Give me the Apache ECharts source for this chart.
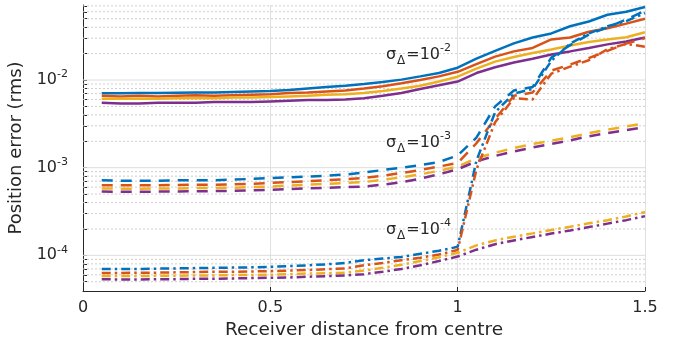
<!DOCTYPE html>
<html><head><meta charset="utf-8">
<script src="https://cdn.jsdelivr.net/npm/echarts@6/dist/echarts.min.js"></script>
<style>html,body{margin:0;padding:0;background:#fff}#c{width:685px;height:348px}</style>
</head><body><div id="c"></div>
<script>
// ---- data ----
const xValues = [0.05,0.10,0.15,0.20,0.25,0.30,0.35,0.40,0.45,0.50,0.55,0.60,0.65,0.70,0.75,0.80,0.85,0.90,0.95,1.00,1.05,1.10,1.15,1.20,1.25,1.30,1.35,1.40,1.45,1.50];

// sigma = 1e-2 (solid)
const solidBlue   = [0.00705,0.00705,0.0071,0.0071,0.00715,0.0072,0.0072,0.0073,0.0074,0.0075,0.0077,0.0080,0.0083,0.0086,0.0090,0.0095,0.0101,0.0110,0.0120,0.0138,0.0175,0.0215,0.0262,0.0305,0.0340,0.0410,0.0465,0.0555,0.0600,0.0680];
const solidOrange = [0.0066,0.0065,0.0066,0.0065,0.0066,0.0067,0.0066,0.0067,0.0068,0.0069,0.0071,0.0072,0.0074,0.0076,0.0080,0.0085,0.0092,0.0100,0.0110,0.0124,0.0152,0.0185,0.0212,0.0232,0.0290,0.0305,0.0355,0.0390,0.0440,0.0500];
const solidYellow = [0.0061,0.0061,0.0061,0.0061,0.0062,0.0062,0.0062,0.0063,0.0063,0.0064,0.0065,0.0066,0.0068,0.0069,0.0071,0.0075,0.0080,0.0086,0.0096,0.0109,0.0135,0.0162,0.0183,0.0203,0.0223,0.0248,0.0272,0.0290,0.0308,0.0350];
const solidPurple = [0.0055,0.0054,0.0054,0.0055,0.0055,0.0055,0.0056,0.0056,0.0056,0.0057,0.0058,0.0059,0.0059,0.0060,0.0062,0.0066,0.0071,0.0079,0.0087,0.0096,0.0120,0.0140,0.0158,0.0175,0.0195,0.0212,0.0232,0.0255,0.0275,0.0305];

// sigma = 1e-3 (dashed)
const dashBlue   = [7.2e-4,7.1e-4,7.1e-4,7.1e-4,7.2e-4,7.2e-4,7.2e-4,7.3e-4,7.45e-4,7.6e-4,7.75e-4,7.9e-4,8.1e-4,8.35e-4,8.8e-4,9.4e-4,1.0e-3,1.07e-3,1.16e-3,1.38e-3,2.2e-3,5.0e-3,7.6e-3,8.3e-3,0.0180,0.0250,0.0330,0.0400,0.0490,0.0620];
const dashOrange = [6.3e-4,6.3e-4,6.3e-4,6.3e-4,6.35e-4,6.4e-4,6.4e-4,6.45e-4,6.55e-4,6.7e-4,6.85e-4,7.0e-4,7.2e-4,7.4e-4,7.65e-4,8.1e-4,8.7e-4,9.4e-4,1.03e-3,1.13e-3,1.9e-3,3.6e-3,6.6e-3,7.2e-3,0.0128,0.0150,0.0178,0.0215,0.0260,0.0300];
const dashYellow = [5.8e-4,5.75e-4,5.75e-4,5.8e-4,5.8e-4,5.85e-4,5.85e-4,5.9e-4,6.0e-4,6.1e-4,6.25e-4,6.4e-4,6.55e-4,6.7e-4,6.85e-4,7.3e-4,7.75e-4,8.4e-4,9.2e-4,1.03e-3,1.28e-3,1.48e-3,1.68e-3,1.86e-3,2.03e-3,2.22e-3,2.48e-3,2.72e-3,2.95e-3,3.20e-3];
const dashPurple = [5.35e-4,5.3e-4,5.3e-4,5.35e-4,5.35e-4,5.4e-4,5.4e-4,5.45e-4,5.5e-4,5.6e-4,5.7e-4,5.8e-4,5.9e-4,6.0e-4,6.1e-4,6.4e-4,6.8e-4,7.5e-4,8.4e-4,9.6e-4,1.18e-3,1.36e-3,1.53e-3,1.70e-3,1.87e-3,2.05e-3,2.28e-3,2.48e-3,2.68e-3,2.90e-3];

// sigma = 1e-4 (dash-dot)
const dotBlue   = [7.0e-5,7.0e-5,7.0e-5,7.05e-5,7.1e-5,7.15e-5,7.2e-5,7.25e-5,7.3e-5,7.4e-5,7.55e-5,7.7e-5,7.9e-5,8.2e-5,8.8e-5,9.2e-5,9.6e-5,1.04e-4,1.13e-4,1.25e-4,1.2e-3,4.3e-3,7.0e-3,7.9e-3,0.0165,0.0260,0.0340,0.0410,0.0470,0.0580];
const dotOrange = [6.3e-5,6.3e-5,6.35e-5,6.35e-5,6.4e-5,6.45e-5,6.5e-5,6.5e-5,6.55e-5,6.6e-5,6.7e-5,6.8e-5,6.95e-5,7.1e-5,7.7e-5,8.2e-5,8.8e-5,9.4e-5,1.02e-4,1.15e-4,9.5e-4,3.3e-3,6.2e-3,6.0e-3,0.0118,0.0142,0.0168,0.0225,0.0258,0.0240];
const dotYellow = [5.8e-5,5.8e-5,5.8e-5,5.85e-5,5.85e-5,5.9e-5,5.9e-5,5.95e-5,5.95e-5,6.0e-5,6.1e-5,6.2e-5,6.25e-5,6.35e-5,6.7e-5,7.2e-5,7.8e-5,8.6e-5,9.5e-5,1.07e-4,1.3e-4,1.48e-4,1.63e-4,1.78e-4,1.95e-4,2.12e-4,2.32e-4,2.52e-4,2.78e-4,3.12e-4];
const dotPurple = [5.35e-5,5.3e-5,5.3e-5,5.35e-5,5.35e-5,5.4e-5,5.4e-5,5.45e-5,5.5e-5,5.55e-5,5.6e-5,5.7e-5,5.8e-5,5.9e-5,6.1e-5,6.5e-5,7.0e-5,7.7e-5,8.6e-5,9.7e-5,1.16e-4,1.34e-4,1.48e-4,1.62e-4,1.77e-4,1.92e-4,2.10e-4,2.30e-4,2.52e-4,2.80e-4];

// ticks
const xTicks = [0, 0.5, 1, 1.5];
const xTickLabels = ['0', '0.5', '1', '1.5'];
const yMajorTicks = [1e-4, 1e-3, 1e-2];
const yTickExponents = ['-4', '-3', '-2'];
const yMinorTicks = [5e-5,6e-5,7e-5,8e-5,9e-5,2e-4,3e-4,4e-4,5e-4,6e-4,7e-4,8e-4,9e-4,2e-3,3e-3,4e-3,5e-3,6e-3,7e-3,8e-3,9e-3,2e-2,3e-2,4e-2,5e-2,6e-2,7e-2];
const annotationExponents = ['-2', '-3', '-4'];

// ---- chart ----
const FONT = 'DejaVu Sans';
const TXT = '#262626';
const COLORS = { blue: '#0072BD', orange: '#D95319', yellow: '#EDB120', purple: '#7E2F8E' };
const DASHED = [11, 8];
const DASHDOT = [9, 4, 2.5, 4];
const X0 = xTicks[0], X1 = xTicks[xTicks.length - 1];

function mk(name, arr, color, dash) {
  return {
    name, type: 'line', data: xValues.map((x, i) => [x, arr[i]]),
    showSymbol: false, symbol: 'none', silent: true, animation: false,
    lineStyle: { color, width: 2.5, type: dash },
    itemStyle: { color }, emphasis: { disabled: true }, z: 3
  };
}
function gridLine(v, color, type) {
  return {
    type: 'line', data: [[X0, v], [X1, v]], showSymbol: false, symbol: 'none',
    silent: true, animation: false, z: 1, emphasis: { disabled: true },
    lineStyle: { color, width: 1, type }, itemStyle: { color }
  };
}

const series = []
  .concat(yMinorTicks.map(v => gridLine(v, '#cfcfcf', [2, 2])))
  .concat(yMajorTicks.map(v => gridLine(v, '#dedede', 'solid')))
  .concat([
    mk('s_b', solidBlue, COLORS.blue, 'solid'),
    mk('s_o', solidOrange, COLORS.orange, 'solid'),
    mk('s_y', solidYellow, COLORS.yellow, 'solid'),
    mk('s_p', solidPurple, COLORS.purple, 'solid'),
    mk('d_b', dashBlue, COLORS.blue, DASHED),
    mk('d_o', dashOrange, COLORS.orange, DASHED),
    mk('d_y', dashYellow, COLORS.yellow, DASHED),
    mk('d_p', dashPurple, COLORS.purple, DASHED),
    mk('dd_b', dotBlue, COLORS.blue, DASHDOT),
    mk('dd_o', dotOrange, COLORS.orange, DASHDOT),
    mk('dd_y', dotYellow, COLORS.yellow, DASHDOT),
    mk('dd_p', dotPurple, COLORS.purple, DASHDOT)
  ]);

const annY = [55, 143, 230];
const graphic = annotationExponents.map((e, i) => ({
  type: 'text', x: 451, y: annY[i], z: 10, silent: true,
  style: {
    text: '{s|σ}{d|Δ}{n|=10}{p|' + e + '}',
    align: 'right', verticalAlign: 'middle',
    fill: TXT, fontFamily: FONT,
    rich: {
      s: { fontSize: 16, lineHeight: 24, fontFamily: FONT, fill: TXT },
      d: { fontSize: 12, lineHeight: 12, verticalAlign: 'bottom', fontFamily: FONT, fill: TXT, padding: [0, 1, 0, 1] },
      n: { fontSize: 16, lineHeight: 24, fontFamily: FONT, fill: TXT },
      p: { fontSize: 11, lineHeight: 10, verticalAlign: 'top', fontFamily: FONT, fill: TXT }
    }
  }
}));

const chart = echarts.init(document.getElementById('c'), null, { renderer: 'canvas' });
chart.setOption({
  animation: false,
  backgroundColor: '#fff',
  textStyle: { fontFamily: FONT },
  grid: { left: 83, right: 40, top: 5, bottom: 57, containLabel: false, outerBoundsMode: 'none' },
  xAxis: {
    type: 'value', min: 0, max: 1.5, interval: 0.5,
    name: 'Receiver distance from centre', nameLocation: 'middle', nameGap: 28,
    nameTextStyle: { fontSize: 18.5, color: TXT, fontFamily: FONT },
    axisLine: { show: true, onZero: false, lineStyle: { color: TXT, width: 1 } },
    axisTick: { show: true, inside: true, length: 4, lineStyle: { color: TXT } },
    axisLabel: {
      show: true, margin: 9, fontSize: 16, color: TXT, fontFamily: FONT,
      formatter: v => { const i = xTicks.findIndex(t => Math.abs(t - v) < 1e-9); return i >= 0 ? xTickLabels[i] : ''; }
    },
    splitLine: { show: true, lineStyle: { color: '#e0e0e0', width: 1 } },
    minorTick: { show: false }, minorSplitLine: { show: false }
  },
  yAxis: {
    type: 'log', logBase: 10, min: 3.92e-5, max: 0.0717,
    name: 'Position error (rms)', nameLocation: 'middle', nameGap: 52,
    nameTextStyle: { fontSize: 18, color: TXT, fontFamily: FONT },
    axisLine: { show: true, lineStyle: { color: TXT, width: 1 } },
    axisTick: { show: true, inside: true, length: 4, lineStyle: { color: TXT }, customValues: yMajorTicks.concat(yMinorTicks) },
    axisLabel: {
      show: true, margin: 15, color: TXT, fontFamily: FONT,
      customValues: yMajorTicks,
      formatter: v => {
        const i = yMajorTicks.findIndex(t => Math.abs(Math.log10(t) - Math.log10(v)) < 1e-6);
        return i >= 0 ? '{b|10}{s|' + yTickExponents[i] + '}' : '';
      },
      rich: {
        b: { fontSize: 16, lineHeight: 22, color: TXT, fontFamily: FONT },
        s: { fontSize: 11, lineHeight: 12, verticalAlign: 'top', color: TXT, fontFamily: FONT }
      }
    },
    splitLine: { show: false },
    minorTick: { show: false }, minorSplitLine: { show: false }
  },
  tooltip: { show: false },
  legend: { show: false },
  graphic,
  series
});
</script>
</body></html>
